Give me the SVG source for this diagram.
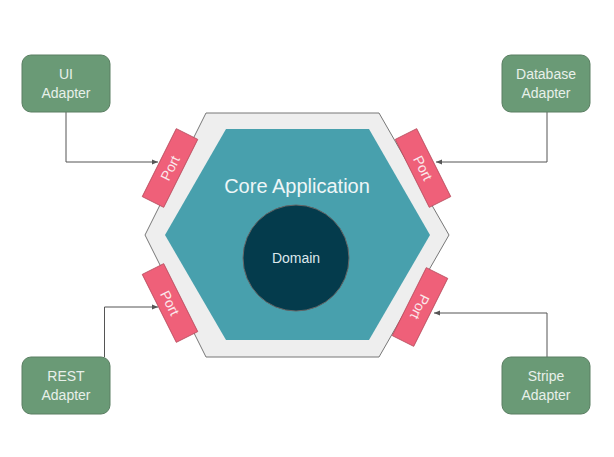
<svg xmlns="http://www.w3.org/2000/svg" width="614" height="457" viewBox="0 0 614 457">
<style>
.ad{fill:#6a9a76;stroke:#5a7e62;stroke-width:1}
.at{font-family:"Liberation Sans",Arial,sans-serif;font-size:14px;fill:#e8f0ea;text-anchor:middle}
.pt{fill:#ef6079;stroke:#b84a5c;stroke-width:0.8}
.ptt{font-family:"Liberation Sans",Arial,sans-serif;font-size:14px;fill:#fbe8ec;text-anchor:middle}
.cn{fill:none;stroke:#555;stroke-width:1}
</style>
<defs><marker id="ar" viewBox="0 0 6 6" refX="6" refY="3" markerWidth="6" markerHeight="6" orient="auto"><path d="M0,0.5 L6,3 L0,5.5z" fill="#555"/></marker></defs>
<rect width="614" height="457" fill="#fff"/>
<g id="hexagon">
<polygon points="206,113 379,113 449,235 379,357 206,357 145,235" fill="#eeeeee" stroke="#777" stroke-width="1"/>
<polygon points="226,129 369,129 430,235 369,340 226,340 165,235" fill="#48a0ad"/>
<text x="297" y="193" font-family="Liberation Sans,Arial,sans-serif" font-size="20" fill="#eef6f7" text-anchor="middle">Core Application</text>
</g>
<g id="domain">
<circle cx="296" cy="258" r="53" fill="#043b4c" stroke="#666" stroke-width="1"/>
<text x="296" y="263" font-family="Liberation Sans,Arial,sans-serif" font-size="14" fill="#dde8ec" text-anchor="middle">Domain</text>
</g>
<g id="port-ul" transform="translate(170,168) rotate(-63.4)"><rect class="pt" x="-38" y="-12" width="76" height="24"/><text class="ptt" y="5">Port</text></g>
<g id="port-ur" transform="translate(423,168) rotate(63.4)"><rect class="pt" x="-38" y="-12" width="76" height="24"/><text class="ptt" y="5">Port</text></g>
<g id="port-ll" transform="translate(170,303) rotate(63.4)"><rect class="pt" x="-38" y="-12" width="76" height="24"/><text class="ptt" y="5">Port</text></g>
<g id="port-lr" transform="translate(420,307) rotate(116.6)"><rect class="pt" x="-38" y="-12" width="76" height="24"/><text class="ptt" y="5">Port</text></g>
<g id="connectors">
<polyline class="cn" points="66,112 66,162 158,162" marker-end="url(#ar)"/>
<polyline class="cn" points="547,112 547,162 436,162" marker-end="url(#ar)"/>
<polyline class="cn" points="104.5,357 104.5,307 158,307" marker-end="url(#ar)"/>
<polyline class="cn" points="547,357 547,313 434,313" marker-end="url(#ar)"/>
</g>
<g id="ui"><rect class="ad" x="22" y="55" width="88" height="57" rx="9"/><text class="at" x="66" y="79">UI</text><text class="at" x="66" y="98">Adapter</text></g>
<g id="db"><rect class="ad" x="502" y="55" width="88" height="57" rx="9"/><text class="at" x="546" y="79">Database</text><text class="at" x="546" y="98">Adapter</text></g>
<g id="rest"><rect class="ad" x="22" y="357" width="88" height="57" rx="9"/><text class="at" x="66" y="381">REST</text><text class="at" x="66" y="400">Adapter</text></g>
<g id="stripe"><rect class="ad" x="502" y="357" width="88" height="57" rx="9"/><text class="at" x="546" y="381">Stripe</text><text class="at" x="546" y="400">Adapter</text></g>
</svg>
